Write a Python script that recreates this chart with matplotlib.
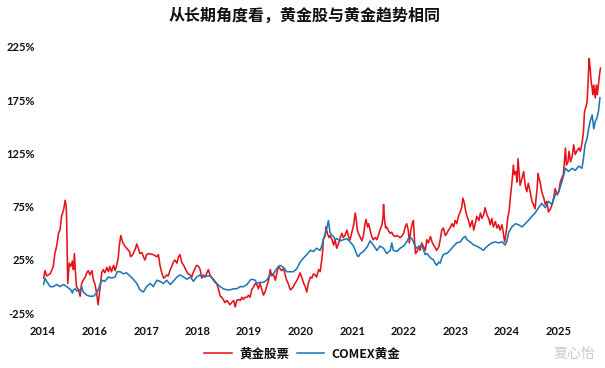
import matplotlib
matplotlib.use("Agg")
import matplotlib.pyplot as plt

plt.rcParams['font.family'] = ['Noto Sans CJK SC', 'DejaVu Sans']

title = "从长期角度看，黄金股与黄金趋势相同"
series_names = ["黄金股票", "COMEX黄金"]

# x tick positions (decimal year) and the labels the original axis shows there
tick_years = [2015, 2016, 2017, 2018, 2019, 2020, 2021, 2022, 2023, 2024, 2025]
tick_labels = ["2014", "2016", "2017", "2018", "2019", "2020",
               "2021", "2022", "2023", "2024", "2025"]
y_ticks = [-25, 25, 75, 125, 175, 225]

# gold stocks, cumulative return in %
red_dates = [
    2015.01, 2015.04, 2015.07, 2015.14, 2015.20, 2015.23, 2015.27, 2015.30, 2015.33, 2015.36,
    2015.40, 2015.43, 2015.45, 2015.46, 2015.48, 2015.51, 2015.54, 2015.57, 2015.59, 2015.61,
    2015.63, 2015.65, 2015.69, 2015.72, 2015.75, 2015.78, 2015.82, 2015.85, 2015.88, 2015.91,
    2015.95, 2015.98,
    2016.01, 2016.04, 2016.07, 2016.11, 2016.14, 2016.17, 2016.20, 2016.24, 2016.27, 2016.30,
    2016.33, 2016.37, 2016.40, 2016.43, 2016.46, 2016.48, 2016.51, 2016.55, 2016.59, 2016.64,
    2016.68, 2016.70, 2016.74, 2016.79, 2016.82, 2016.85, 2016.88, 2016.92, 2016.95, 2016.98,
    2017.01, 2017.05,
    2017.14, 2017.21, 2017.24, 2017.27, 2017.30, 2017.34, 2017.37, 2017.40, 2017.43, 2017.47,
    2017.50, 2017.53, 2017.56, 2017.60, 2017.63, 2017.66, 2017.69, 2017.73, 2017.76, 2017.79,
    2017.82, 2017.86, 2017.89, 2017.92, 2017.95, 2017.98,
    2018.02, 2018.05, 2018.08, 2018.11, 2018.15, 2018.18, 2018.21, 2018.24, 2018.28, 2018.31,
    2018.34, 2018.37, 2018.41, 2018.44, 2018.47, 2018.50, 2018.53, 2018.57, 2018.60, 2018.63,
    2018.66, 2018.70, 2018.73, 2018.76, 2018.79, 2018.83, 2018.86, 2018.89, 2018.92, 2018.96,
    2018.99,
    2019.02, 2019.05, 2019.09, 2019.12, 2019.15, 2019.18, 2019.21, 2019.25, 2019.28, 2019.31,
    2019.34, 2019.38, 2019.41, 2019.44, 2019.47, 2019.51, 2019.54, 2019.57, 2019.60, 2019.63,
    2019.67, 2019.70, 2019.73, 2019.76, 2019.80, 2019.83, 2019.86, 2019.89, 2019.93, 2019.96,
    2019.99,
    2020.02, 2020.06, 2020.09, 2020.12, 2020.15, 2020.19, 2020.22, 2020.25, 2020.28, 2020.31,
    2020.35, 2020.38, 2020.41, 2020.43, 2020.44, 2020.48, 2020.49, 2020.52, 2020.55, 2020.57,
    2020.61, 2020.64, 2020.67, 2020.70, 2020.74, 2020.77, 2020.80, 2020.83, 2020.86, 2020.90,
    2020.93, 2020.96, 2020.99,
    2021.03, 2021.06, 2021.08, 2021.10, 2021.14, 2021.16, 2021.19, 2021.22, 2021.25, 2021.27,
    2021.30, 2021.32, 2021.35, 2021.38, 2021.41, 2021.45,
    2021.48, 2021.51, 2021.54, 2021.58, 2021.60, 2021.61, 2021.63, 2021.65, 2021.67, 2021.71,
    2021.74, 2021.77, 2021.80, 2021.84, 2021.87, 2021.90, 2021.93, 2021.96,
    2022.00, 2022.03, 2022.06, 2022.09, 2022.11, 2022.14, 2022.17, 2022.19, 2022.21, 2022.23,
    2022.26, 2022.29, 2022.32, 2022.35, 2022.39, 2022.42, 2022.45, 2022.48, 2022.52, 2022.55,
    2022.58, 2022.61, 2022.64, 2022.68, 2022.71, 2022.74, 2022.77, 2022.81, 2022.84, 2022.87,
    2022.90, 2022.94, 2022.97,
    2023.00, 2023.03, 2023.07, 2023.10, 2023.13, 2023.15, 2023.18, 2023.20, 2023.23, 2023.26,
    2023.29, 2023.33, 2023.36, 2023.39, 2023.42, 2023.46, 2023.49, 2023.52, 2023.55,
    2023.58, 2023.62, 2023.65, 2023.68, 2023.71, 2023.74, 2023.78, 2023.81, 2023.84, 2023.87,
    2023.91, 2023.94, 2023.96, 2023.98,
    2024.00, 2024.02, 2024.05, 2024.07, 2024.09, 2024.11, 2024.13, 2024.15, 2024.18, 2024.20,
    2024.22, 2024.24, 2024.26, 2024.30, 2024.33, 2024.36, 2024.39, 2024.42, 2024.46, 2024.49,
    2024.52, 2024.55, 2024.59, 2024.61, 2024.62, 2024.65, 2024.68, 2024.72, 2024.75, 2024.78,
    2024.81, 2024.85, 2024.88, 2024.91, 2024.94, 2024.98,
    2025.01, 2025.04, 2025.07, 2025.10, 2025.14, 2025.16, 2025.19, 2025.21, 2025.24, 2025.27,
    2025.30, 2025.33, 2025.36, 2025.40, 2025.43, 2025.46, 2025.49, 2025.51, 2025.54, 2025.56,
    2025.58, 2025.60, 2025.62, 2025.64, 2025.66, 2025.67, 2025.69, 2025.72, 2025.74, 2025.76,
    2025.78, 2025.80, 2025.82,
]
red_vals = [
    8, 15, 10, 12, 19, 31, 39, 50, 53, 66,
    72, 81, 76, 62, 3, 22, 19, 24, 16, 31,
    13, 0, -3, -9, 3, 6, 9, 13, 15, 11,
    15, 6,
    2, -6, -17, 0, 13, 16, 13, 18, 14, 19,
    14, 20, 15, 20, 27, 38, 48, 41, 38, 35,
    33, 28, 30, 35, 40, 36, 31, 32, 28, 25,
    30, 31,
    30, 28, 30, 20, 14, 8, 9, 11, 10, 16,
    19, 23, 25, 22, 28, 30, 23, 20, 17, 14,
    12, 11, 9, 14, 17, 20,
    19, 16, 8, 11, 9, 13, 16, 11, 8, 6,
    4, 3, -3, -9, -10, -12, -15, -13, -15, -17,
    -15, -13, -19, -13, -12, -13, -10, -12, -10, -10,
    -8,
    -10, -3, 0, 3, 2, -2, 3, -3, -8, -5,
    0, 6, 16, 10, 12, 6, 13, 19, 17, 15,
    17, 11, 6, 3, -3, -2, 0, 3, 6, 9,
    13,
    9, 3, 0, -5, 3, 9, 8, 12, 11, 9,
    16, 14, 25, 34, 44, 48, 56, 50, 46, 48,
    44, 39, 44, 36, 41, 46, 50, 46, 48, 53,
    47, 44, 50,
    58, 69, 63, 53, 48, 46, 43, 48, 59, 63,
    56, 59, 53, 47, 44, 46,
    44, 48, 53, 58, 66, 77, 62, 55, 56, 52,
    50, 51, 48, 47, 48, 47, 46, 47,
    50, 56, 59, 53, 41, 53, 60, 62, 44, 31,
    33, 38, 34, 41, 37, 34, 44, 41, 47, 42,
    39, 37, 34, 37, 44, 53, 55, 48, 50, 53,
    55, 59, 56,
    62, 59, 67, 70, 75, 83, 78, 72, 66, 62,
    56, 62, 53, 59, 66, 62, 69, 64, 67,
    74, 67, 64, 58, 64, 56, 61, 55, 58, 53,
    58, 48, 42, 48,
    55, 64, 72, 83, 92, 102, 114, 105, 108, 98,
    120, 108, 95, 102, 108, 95, 89, 97, 88, 80,
    77, 73, 92, 106, 103, 98, 89, 83, 77, 80,
    70, 73, 77, 83, 92, 86,
    89, 98, 102, 105, 130, 114, 117, 127, 117, 122,
    133, 124, 127, 130, 127, 134, 145, 164, 169, 173,
    192, 214, 205, 192, 186, 180, 189, 177, 189, 180,
    189, 198, 205,
]

# COMEX gold, cumulative return in %
blue_dates = [
    2015.01, 2015.04, 2015.07, 2015.14, 2015.20, 2015.27, 2015.33, 2015.40, 2015.46, 2015.54,
    2015.57, 2015.59, 2015.63, 2015.65, 2015.72, 2015.75, 2015.78, 2015.85, 2015.91, 2015.98,
    2016.04, 2016.07, 2016.11, 2016.14, 2016.20, 2016.27, 2016.33, 2016.40, 2016.44, 2016.50,
    2016.56, 2016.62, 2016.69, 2016.75, 2016.82, 2016.88, 2016.95,
    2017.01, 2017.08, 2017.14, 2017.21, 2017.27, 2017.34, 2017.40, 2017.47, 2017.53, 2017.60,
    2017.66, 2017.73, 2017.79, 2017.86, 2017.92, 2017.98,
    2018.05, 2018.11, 2018.18, 2018.24, 2018.31, 2018.37, 2018.44, 2018.50, 2018.57, 2018.63,
    2018.70, 2018.76, 2018.83, 2018.89, 2018.96,
    2019.02, 2019.05, 2019.12, 2019.15, 2019.21, 2019.28, 2019.34, 2019.41, 2019.47, 2019.54,
    2019.60, 2019.67, 2019.73, 2019.80, 2019.86, 2019.93, 2019.99,
    2020.06, 2020.12, 2020.19, 2020.25, 2020.31, 2020.38, 2020.41, 2020.44, 2020.48, 2020.51,
    2020.54, 2020.57, 2020.61, 2020.64, 2020.67, 2020.70, 2020.77, 2020.83, 2020.90, 2020.96,
    2021.03, 2021.09, 2021.12, 2021.16, 2021.22, 2021.29, 2021.35, 2021.41, 2021.48, 2021.54,
    2021.61, 2021.67, 2021.74, 2021.77, 2021.80, 2021.87, 2021.93,
    2022.00, 2022.06, 2022.11, 2022.16, 2022.19, 2022.22, 2022.26, 2022.32, 2022.35, 2022.39,
    2022.42, 2022.45, 2022.52, 2022.58, 2022.61, 2022.64, 2022.68, 2022.71, 2022.74, 2022.77,
    2022.81, 2022.84, 2022.90, 2022.97,
    2023.03, 2023.10, 2023.16, 2023.20, 2023.23, 2023.29, 2023.36, 2023.42, 2023.49, 2023.55,
    2023.58, 2023.65, 2023.71, 2023.78, 2023.84, 2023.91, 2023.97,
    2024.00, 2024.04, 2024.10, 2024.17, 2024.23, 2024.30, 2024.36, 2024.42, 2024.49, 2024.55,
    2024.62, 2024.68, 2024.75, 2024.81, 2024.88, 2024.94,
    2025.01, 2025.07, 2025.14, 2025.20, 2025.27, 2025.33, 2025.40, 2025.46, 2025.49, 2025.52,
    2025.56, 2025.59, 2025.62, 2025.66, 2025.69, 2025.72, 2025.75, 2025.78, 2025.81,
]
blue_vals = [
    2, 8, 5, 0, 0, 2, 0, 2, 0, -3,
    -6, -3, -2, -4, -3, 0, -5, -8, -9, -9,
    -6, -3, 2, 6, 5, 9, 8, 9, 14, 14,
    12, 13, 10, 7, 3, -3, -5,
    0, 3, 0, 6, 5, 3, 6, 2, 5, 9,
    11, 9, 7, 9, 5, 9,
    11, 9, 10, 10, 7, 3, 0, -2, -3, -3,
    -2, -2, 0, 0, 2,
    6, 7, 6, 3, 4, 4, 6, 11, 12, 17,
    20, 18, 14, 14, 14, 17, 23,
    27, 30, 34, 33, 36, 34, 38, 44, 50, 55,
    62, 51, 48, 47, 44, 45, 43, 44, 45, 42,
    38, 30, 28, 31, 33, 37, 43, 39, 34, 38,
    36, 31, 34, 41, 34, 33, 36,
    38, 42, 47, 45, 42, 38, 36, 38, 39, 34,
    30, 31, 27, 25, 22, 20, 23, 22, 27, 30,
    31, 31, 34, 38,
    41, 42, 46, 47, 44, 42, 39, 38, 36, 34,
    36, 39, 41, 42, 41, 42, 39,
    42, 51, 56, 59, 58, 56, 59, 62, 66, 69,
    74, 78, 74, 80, 77, 86,
    89, 98, 111, 108, 111, 109, 113, 111, 120, 133,
    139, 148, 155, 161, 148, 155, 158, 164, 177,
]

fig = plt.figure(figsize=(6.05, 3.68), dpi=100)
ax = fig.add_axes([43 / 605, 1 - 313.3 / 368, 559 / 605, 266.6 / 368])

ax.plot(red_dates, red_vals, color='#e5141a', lw=1.15, label=series_names[0])
ax.plot(blue_dates, blue_vals, color='#1f78b4', lw=1.15, label=series_names[1])

ax.set_xlim(2015.0, 2025.85)
ax.set_ylim(-25, 225)

ax.set_xticks(tick_years)
ax.set_xticklabels(tick_labels)
ax.set_yticks(y_ticks)
ax.set_yticklabels(["%d%%" % v for v in y_ticks])
ax.tick_params(axis='both', length=0, labelsize=8)
ax.tick_params(axis='x', pad=9)
ax.tick_params(axis='y', pad=6)
for lab in ax.get_xticklabels() + ax.get_yticklabels():
    lab.set_fontfamily(['Lato', 'DejaVu Sans'])
    lab.set_fontweight('bold')
    lab.set_color('#111111')

for sp in ax.spines.values():
    sp.set_visible(False)

fig.text(0.503, 1 - 15.5 / 368, title, ha='center', va='center',
         fontsize=11.5, fontweight='bold', color='#111111')

leg = fig.legend(loc='center', bbox_to_anchor=(0.50, 1 - 354 / 368), ncol=2,
                 frameon=False, handlelength=2.2, handletextpad=0.6,
                 columnspacing=0.6, prop={'size': 9, 'weight': 'bold'})
for txt in leg.get_texts():
    txt.set_color('#111111')

# weibo watermark
fig.text(0.95, 1 - 354 / 368, "夏心怡", ha='center', va='center',
         fontsize=10, color='#c9c9c9')

fig.savefig("out.png", dpi=100)
